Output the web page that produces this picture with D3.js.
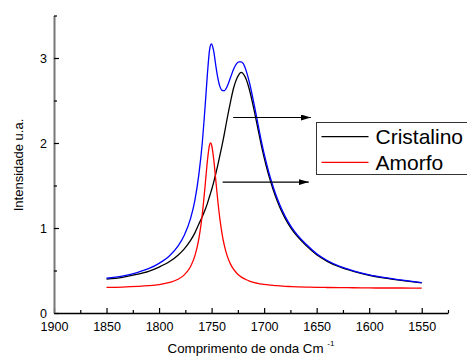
<!DOCTYPE html>
<html>
<head>
<meta charset="utf-8">
<script src="https://cdn.jsdelivr.net/npm/d3@7/dist/d3.min.js"></script>
<style>
  html, body { margin: 0; padding: 0; background: #fff; }
  svg { display: block; font-family: "Liberation Sans", Arial, sans-serif; }
</style>
</head>
<body>
<svg id="chart" width="467" height="356"></svg>
<script>
// Wavenumber grid (cm^-1) and band intensities (a.u.)
const wavenumber = [1850, 1835, 1820, 1810, 1800, 1790, 1782, 1776, 1770, 1766, 1762, 1759, 1756, 1754, 1752, 1751, 1750, 1748, 1746, 1744, 1742, 1740, 1738, 1735, 1732, 1729, 1726, 1724, 1722, 1720, 1717, 1714, 1710, 1706, 1702, 1698, 1694, 1690, 1685, 1680, 1674, 1668, 1660, 1650, 1640, 1628, 1615, 1600, 1585, 1570, 1550];

const cristalino = [0.398, 0.42, 0.456, 0.49, 0.54, 0.605, 0.68, 0.755, 0.855, 0.94, 1.05, 1.13, 1.22, 1.29, 1.37, 1.41, 1.45, 1.54, 1.64, 1.745, 1.86, 1.975, 2.10, 2.30, 2.485, 2.65, 2.76, 2.805, 2.83, 2.816, 2.746, 2.626, 2.413, 2.173, 1.934, 1.729, 1.551, 1.399, 1.242, 1.113, 0.99, 0.895, 0.793, 0.685, 0.608, 0.541, 0.49, 0.444, 0.41, 0.385, 0.355];

const amorfo = [0.301, 0.305, 0.313, 0.321, 0.334, 0.359, 0.397, 0.449, 0.548, 0.669, 0.882, 1.145, 1.52, 1.789, 1.974, 2.0, 1.977, 1.81, 1.56, 1.309, 1.096, 0.929, 0.802, 0.666, 0.575, 0.512, 0.467, 0.444, 0.425, 0.41, 0.391, 0.376, 0.36, 0.349, 0.34, 0.333, 0.327, 0.323, 0.318, 0.314, 0.311, 0.308, 0.305, 0.302, 0.300, 0.298, 0.297, 0.295, 0.294, 0.294, 0.293];

// Total (envelope) spectrum
const soma = [0.409, 0.435, 0.479, 0.521, 0.584, 0.674, 0.787, 0.914, 1.113, 1.319, 1.642, 1.985, 2.46, 2.81, 3.09, 3.15, 3.165, 3.08, 2.91, 2.76, 2.66, 2.62, 2.615, 2.67, 2.77, 2.87, 2.937, 2.955, 2.955, 2.936, 2.846, 2.712, 2.483, 2.232, 1.984, 1.772, 1.588, 1.432, 1.27, 1.137, 1.011, 0.913, 0.808, 0.697, 0.618, 0.549, 0.497, 0.449, 0.415, 0.389, 0.358];

const xTicks = [1900, 1850, 1800, 1750, 1700, 1650, 1600, 1550];
const xMinorTicks = [1875, 1825, 1775, 1725, 1675, 1625, 1575, 1525];
const yTicks = [0, 1, 2, 3];
const yMinorTicks = [0.5, 1.5, 2.5, 3.5];

const legendNames = ["Cristalino", "Amorfo"];
const legendColors = ["#000000", "#ff0000"];

// Annotation arrows pointing from each band to its legend entry
const arrowFrom = [1729.5, 1739.5];
const arrowTo = [1655.5, 1657.5];
const arrowLevel = [2.30, 1.54];

const svg = d3.select("#chart");

const x = d3.scaleLinear().domain([1900, 1525]).range([54, 448]);
const y = d3.scaleLinear().domain([0, 3.5]).range([313, 15.5]);

// Axes
const gx = svg.append("g").attr("transform", "translate(0,313)");
gx.call(d3.axisBottom(x).tickValues(xTicks).tickSizeInner(-5).tickSizeOuter(0).tickPadding(9).tickFormat(d3.format("d")));
gx.select(".domain").attr("stroke", "#000").attr("stroke-width", 1.5);
gx.selectAll(".tick line").attr("stroke", "#000").attr("stroke-width", 1.2);
gx.selectAll(".tick text").attr("font-size", 12.5).attr("font-family", "Liberation Sans, Arial, sans-serif").attr("fill", "#000");

const gxm = svg.append("g").attr("transform", "translate(0,313)");
gxm.call(d3.axisBottom(x).tickValues(xMinorTicks).tickSizeInner(-3).tickSizeOuter(0).tickFormat(""));
gxm.select(".domain").remove();
gxm.selectAll(".tick line").attr("stroke", "#000").attr("stroke-width", 1.2);

const gy = svg.append("g").attr("transform", "translate(54,0)");
gy.call(d3.axisLeft(y).tickValues(yTicks).tickSizeInner(-5).tickSizeOuter(0).tickPadding(7).tickFormat(d3.format("d")));
gy.select(".domain").attr("stroke", "#777").attr("stroke-width", 2);
gy.selectAll(".tick line").attr("stroke", "#000").attr("stroke-width", 1.2);
gy.selectAll(".tick text").attr("font-size", 12.5).attr("font-family", "Liberation Sans, Arial, sans-serif").attr("fill", "#000");

const gym = svg.append("g").attr("transform", "translate(54,0)");
gym.call(d3.axisLeft(y).tickValues(yMinorTicks).tickSizeInner(-3).tickSizeOuter(0).tickFormat(""));
gym.select(".domain").remove();
gym.selectAll(".tick line").attr("stroke", "#000").attr("stroke-width", 1.2);

// Axis titles
svg.append("text")
  .attr("transform", "translate(23,165) rotate(-90)")
  .attr("text-anchor", "middle")
  .attr("font-size", 13)
  .text("Intensidade u.a.");

const xt = svg.append("text")
  .attr("x", 251).attr("y", 353)
  .attr("text-anchor", "middle")
  .attr("font-size", 13.3);
xt.append("tspan").text("Comprimento de onda Cm ");
xt.append("tspan").attr("font-size", 8).attr("dy", -7).text("-1");

// Spectra
const line = values => d3.line()
  .x((d, i) => x(wavenumber[i]))
  .y(d => y(d))
  .curve(d3.curveMonotoneX)(values);

const series = [
  { values: cristalino, color: "#000000" },
  { values: amorfo, color: "#ff0000" },
  { values: soma, color: "#0000ff" }
];
svg.append("g").selectAll("path")
  .data(series)
  .join("path")
  .attr("d", d => line(d.values))
  .attr("fill", "none")
  .attr("stroke", d => d.color)
  .attr("stroke-width", 1.3);

// Arrows
const defs = svg.append("defs");
defs.append("marker")
  .attr("id", "head")
  .attr("viewBox", "0 0 10 6")
  .attr("refX", 10).attr("refY", 3)
  .attr("markerWidth", 10).attr("markerHeight", 6)
  .attr("markerUnits", "userSpaceOnUse")
  .attr("orient", "auto")
  .append("path").attr("d", "M0,0 L10,3 L0,6 Z").attr("fill", "#000");

svg.append("g").selectAll("line")
  .data(arrowFrom)
  .join("line")
  .attr("x1", (d, i) => x(d))
  .attr("x2", (d, i) => x(arrowTo[i]))
  .attr("y1", (d, i) => y(arrowLevel[i]))
  .attr("y2", (d, i) => y(arrowLevel[i]))
  .attr("stroke", "#000")
  .attr("stroke-width", 1.2)
  .attr("marker-end", "url(#head)");

// Legend
const lg = svg.append("g");
lg.append("rect")
  .attr("x", 316.5).attr("y", 122.5)
  .attr("width", 160).attr("height", 52)
  .attr("fill", "#fff")
  .attr("stroke", "#333").attr("stroke-width", 1);
legendNames.forEach((name, i) => {
  const ly = 136.7 + i * 25.6;
  lg.append("line")
    .attr("x1", 321.5).attr("x2", 368.5)
    .attr("y1", ly).attr("y2", ly)
    .attr("stroke", legendColors[i]).attr("stroke-width", 1.3);
  lg.append("text")
    .attr("x", 375.5).attr("y", ly + 7.6)
    .attr("font-size", 21)
    .text(name);
});
</script>
</body>
</html>
